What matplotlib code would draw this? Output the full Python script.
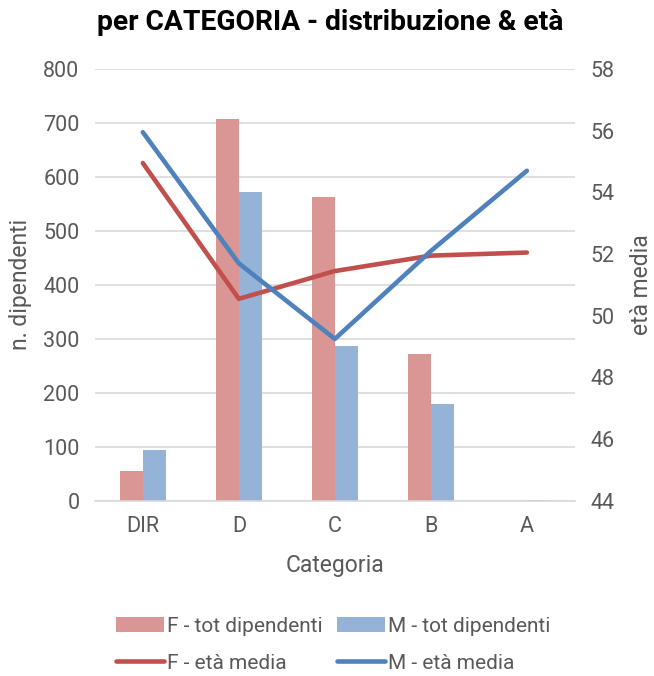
import matplotlib.pyplot as plt
import numpy as np

plt.rcParams['font.family'] = ['Roboto', 'DejaVu Sans']

categorie = ["DIR", "D", "C", "B", "A"]
f_tot = [56, 707, 563, 272, 0]
m_tot = [94, 572, 287, 180, 2]
f_eta = [54.95, 50.55, 51.45, 51.95, 52.05]
m_eta = [55.95, 51.70, 49.25, 52.10, 54.70]

grey = "#595959"
x = np.arange(len(categorie))
w = 0.24

fig = plt.figure(figsize=(6.54, 6.76), dpi=100)
ax = fig.add_axes([0.145, 0.259, 0.734, 0.639])
ax2 = ax.twinx()

b1 = ax.bar(x - w / 2, f_tot, w, color="#D99694", label="F - tot dipendenti", zorder=2)
b2 = ax.bar(x + w / 2, m_tot, w, color="#95B3D7", label="M - tot dipendenti", zorder=2)
l1, = ax2.plot(x, f_eta, color="#C0504D", lw=3.3, solid_capstyle="round", label="F - età media")
l2, = ax2.plot(x, m_eta, color="#4F81BD", lw=3.3, solid_capstyle="round", label="M - età media")

ax.set_xlim(-0.5, len(categorie) - 0.5)
ax.set_ylim(0, 800)
ax.set_yticks(range(0, 801, 100))
ax2.set_ylim(44, 58)
ax2.set_yticks(range(44, 59, 2))

ax.set_xticks(x)
ax.set_xticklabels(categorie)
ax.grid(axis="y", color="#D9D9D9", lw=1.2, zorder=0)
ax.set_axisbelow(True)

for a in (ax, ax2):
    for s in a.spines.values():
        s.set_visible(False)
    a.tick_params(length=0, labelsize=15.5, colors=grey, pad=11)
ax.spines["bottom"].set_visible(True)
ax.spines["bottom"].set_color("#D9D9D9")
ax.spines["bottom"].set_linewidth(1.2)

ax.set_xlabel("Categoria", fontsize=16.5, color=grey, labelpad=12)
ax.set_ylabel("n. dipendenti", fontsize=16.5, color=grey, labelpad=8)
ax2.set_ylabel("età media", fontsize=16.5, color=grey, labelpad=11)

fig.suptitle("per CATEGORIA - distribuzione & età", fontsize=20.3, fontweight="bold",
             x=0.505, y=0.986)

fig.legend([b1, l1, b2, l2],
           ["F - tot dipendenti", "F - età media", "M - tot dipendenti", "M - età media"],
           ncol=2, loc="center", bbox_to_anchor=(0.51, 0.046), frameon=False,
           fontsize=15, labelcolor=grey, handlelength=2.3, handletextpad=0.15,
           columnspacing=0.7, labelspacing=0.85)

fig.savefig("out.png", dpi=100)
